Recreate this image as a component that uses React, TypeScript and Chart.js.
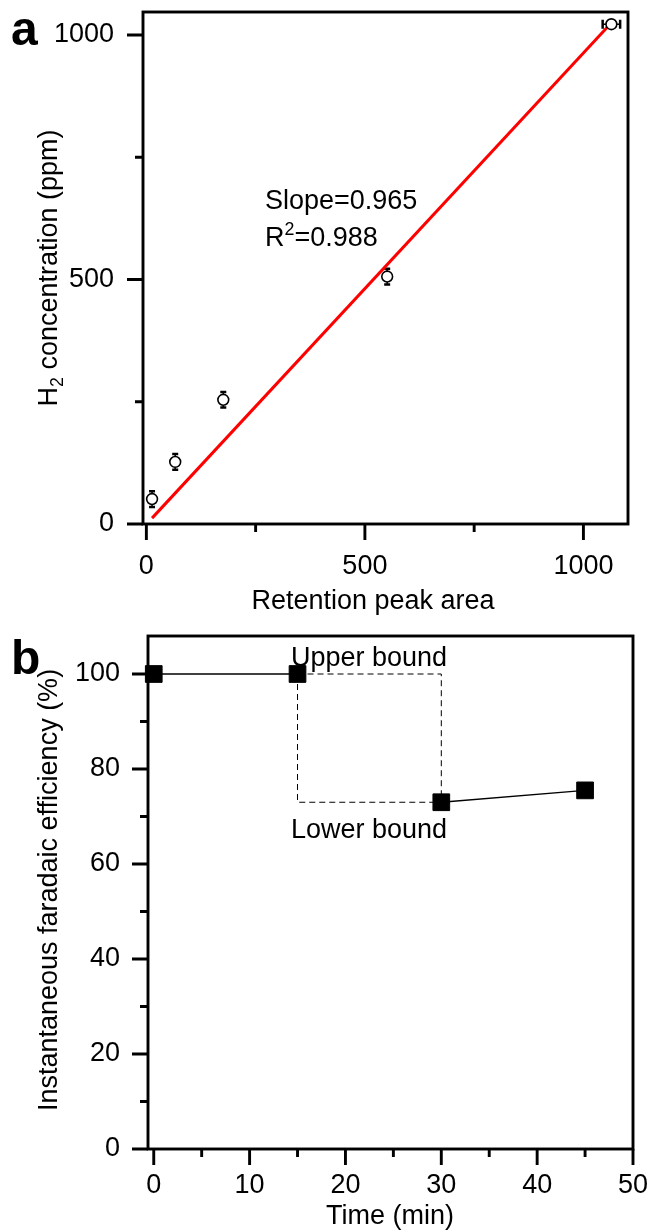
import React, { useEffect, useRef } from 'react';
import { Chart, registerables } from 'chart.js';

Chart.register(...registerables);

const FONT = "'Liberation Sans', Arial, Helvetica, sans-serif";
const FS = 27;

// ---------- Panel a data ----------
const peakArea = [13, 66, 176, 551, 1064];
const h2Concentration = [51, 127, 254, 506, 1022];
const h2ConcentrationErr = [16, 16, 16, 16, 0];
const peakAreaErr = [0, 0, 0, 0, 20];
const fitLineArea = [13, 1062];
const fitLineConc = [12, 1023];
const panelAXTicks = [0, 500, 1000];
const panelAXMinorTicks = [250, 750];
const panelAYTicks = [0, 500, 1000];
const panelAYMinorTicks = [250, 750];
const slopeText = 'Slope=0.965';
const r2Value = '=0.988';

// ---------- Panel b data ----------
const timeMin = [0, 15, 30, 45];
const faradaicEff = [100, 100, 73, 75.5];
const upperBoundTime = [15, 30, 30];
const upperBoundEff = [100, 100, 73];
const lowerBoundTime = [15, 15, 30];
const lowerBoundEff = [100, 73, 73];
const panelBXTicks = [0, 10, 20, 30, 40, 50];
const panelBXMinorTicks = [5, 15, 25, 35, 45];
const panelBYTicks = [0, 20, 40, 60, 80, 100];
const panelBYMinorTicks = [10, 30, 50, 70, 90];

type Part = { t: string; sub?: boolean; sup?: boolean };

function drawRich(ctx: CanvasRenderingContext2D, parts: Part[], x: number, y: number, size: number, align: 'left' | 'center') {
  ctx.textBaseline = 'alphabetic';
  ctx.textAlign = 'left';
  let w = 0;
  const widths: number[] = [];
  for (const p of parts) {
    const s = p.sub || p.sup ? size * 0.66 : size;
    ctx.font = `${s}px ${FONT}`;
    const m = ctx.measureText(p.t).width;
    widths.push(m);
    w += m;
  }
  let cx = align === 'center' ? x - w / 2 : x;
  parts.forEach((p, i) => {
    const s = p.sub || p.sup ? size * 0.66 : size;
    ctx.font = `${s}px ${FONT}`;
    const dy = p.sub ? size * 0.22 : p.sup ? -size * 0.4 : 0;
    ctx.fillText(p.t, cx, y + dy);
    cx += widths[i];
  });
}

function drawFrameTicks(chart: any, xMajor: number[], xMinor: number[], yMajor: number[], yMinor: number[]) {
  const { ctx, chartArea: a, scales } = chart;
  const xs = scales.x;
  const ys = scales.y;
  ctx.save();
  ctx.strokeStyle = '#000';
  ctx.lineWidth = 2.9;
  ctx.lineCap = 'butt';
  ctx.strokeRect(a.left, a.top, a.right - a.left, a.bottom - a.top);
  ctx.beginPath();
  for (const v of xMajor) {
    const px = xs.getPixelForValue(v);
    ctx.moveTo(px, a.bottom);
    ctx.lineTo(px, a.bottom + 16);
  }
  for (const v of xMinor) {
    const px = xs.getPixelForValue(v);
    ctx.moveTo(px, a.bottom);
    ctx.lineTo(px, a.bottom + 8);
  }
  for (const v of yMajor) {
    const py = ys.getPixelForValue(v);
    ctx.moveTo(a.left, py);
    ctx.lineTo(a.left - 16, py);
  }
  for (const v of yMinor) {
    const py = ys.getPixelForValue(v);
    ctx.moveTo(a.left, py);
    ctx.lineTo(a.left - 8, py);
  }
  ctx.stroke();
  ctx.restore();
}

function makeScale(min: number, max: number, ticks: number[], pad: number, size: { w?: number; h?: number }) {
  return {
    type: 'linear' as const,
    min,
    max,
    grid: { display: false, drawTicks: false, tickLength: 0 },
    border: { display: false },
    ticks: {
      color: '#000',
      font: { size: FS, family: FONT },
      padding: pad,
      autoSkip: false,
      maxRotation: 0,
      minRotation: 0,
      callback: (v: any) => String(v),
    },
    afterBuildTicks: (s: any) => {
      s.ticks = ticks.map((v) => ({ value: v }));
    },
    afterFit: (s: any) => {
      if (size.w !== undefined) s.width = size.w;
      if (size.h !== undefined) s.height = size.h;
      s.paddingTop = 0;
      s.paddingBottom = 0;
      s.paddingLeft = 0;
      s.paddingRight = 0;
    },
  };
}

function ChartA() {
  const ref = useRef<HTMLCanvasElement>(null);
  useEffect(() => {
    if (!ref.current) return;
    const errPlugin = {
      id: 'errBarsA',
      beforeDatasetsDraw(chart: any) {
        const { ctx, scales } = chart;
        const xs = scales.x;
        const ys = scales.y;
        ctx.save();
        ctx.strokeStyle = '#000';
        peakArea.forEach((xv, i) => {
          const px = xs.getPixelForValue(xv);
          const py = ys.getPixelForValue(h2Concentration[i]);
          const ye = h2ConcentrationErr[i];
          if (ye > 0) {
            const t = ys.getPixelForValue(h2Concentration[i] + ye);
            const b = ys.getPixelForValue(h2Concentration[i] - ye);
            ctx.lineWidth = 1.5;
            ctx.beginPath();
            ctx.moveTo(px, t);
            ctx.lineTo(px, b);
            ctx.stroke();
            ctx.lineWidth = 2.5;
            ctx.beginPath();
            ctx.moveTo(px - 3, t);
            ctx.lineTo(px + 3, t);
            ctx.moveTo(px - 3, b);
            ctx.lineTo(px + 3, b);
            ctx.stroke();
          }
          const xe = peakAreaErr[i];
          if (xe > 0) {
            const l = xs.getPixelForValue(xv - xe);
            const r = xs.getPixelForValue(xv + xe);
            ctx.lineWidth = 1.5;
            ctx.beginPath();
            ctx.moveTo(l, py);
            ctx.lineTo(r, py);
            ctx.stroke();
            ctx.lineWidth = 2.5;
            ctx.beginPath();
            ctx.moveTo(l, py - 4.5);
            ctx.lineTo(l, py + 4.5);
            ctx.moveTo(r, py - 4.5);
            ctx.lineTo(r, py + 4.5);
            ctx.stroke();
          }
        });
        ctx.restore();
      },
      afterDraw(chart: any) {
        const ctx = chart.ctx as CanvasRenderingContext2D;
        drawFrameTicks(chart, panelAXTicks, panelAXMinorTicks, panelAYTicks, panelAYMinorTicks);
        ctx.save();
        ctx.fillStyle = '#000';
        ctx.font = `bold 48px ${FONT}`;
        ctx.textAlign = 'left';
        ctx.textBaseline = 'alphabetic';
        ctx.fillText('a', 11, 45);
        drawRich(ctx, [{ t: slopeText }], 265, 209, FS, 'left');
        drawRich(ctx, [{ t: 'R' }, { t: '2', sup: true }, { t: r2Value }], 265, 246, FS, 'left');
        drawRich(ctx, [{ t: 'Retention peak area' }], 373, 609, FS, 'center');
        const a = chart.chartArea;
        ctx.save();
        ctx.translate(57, (a.top + a.bottom) / 2);
        ctx.rotate(-Math.PI / 2);
        drawRich(ctx, [{ t: 'H' }, { t: '2', sub: true }, { t: ' concentration (ppm)' }], 0, 0, FS, 'center');
        ctx.restore();
        ctx.restore();
      },
    };
    const chart = new Chart(ref.current, {
      type: 'scatter',
      data: {
        datasets: [
          {
            label: 'H2',
            data: peakArea.map((x, i) => ({ x, y: h2Concentration[i] })),
            pointStyle: 'circle',
            pointRadius: 5.4,
            pointBorderWidth: 1.6,
            pointBackgroundColor: '#fff',
            pointBorderColor: '#000',
            showLine: false,
            order: 0,
            clip: false as any,
          },
          {
            label: 'fit',
            data: fitLineArea.map((x, i) => ({ x, y: fitLineConc[i] })),
            showLine: true,
            borderColor: '#ff0000',
            borderWidth: 3,
            pointRadius: 0,
            order: 1,
          },
        ],
      },
      options: {
        animation: false,
        responsive: false,
        maintainAspectRatio: false,
        events: [],
        layout: { padding: { top: 12, right: 24, left: 0, bottom: 0 } },
        plugins: { legend: { display: false }, tooltip: { enabled: false } },
        scales: {
          x: makeScale(-7.7, 1102, panelAXTicks, 26, { h: 91 }) as any,
          y: makeScale(0, 1047, panelAYTicks, 29, { w: 143 }) as any,
        },
      },
      plugins: [errPlugin],
    });
    return () => chart.destroy();
  }, []);
  return <canvas ref={ref} width={652} height={615} style={{ display: 'block', width: 652, height: 615 }} />;
}

function ChartB() {
  const ref = useRef<HTMLCanvasElement>(null);
  useEffect(() => {
    if (!ref.current) return;
    const deco = {
      id: 'decoB',
      afterDraw(chart: any) {
        const ctx = chart.ctx as CanvasRenderingContext2D;
        drawFrameTicks(chart, panelBXTicks, panelBXMinorTicks, panelBYTicks, panelBYMinorTicks);
        ctx.save();
        ctx.fillStyle = '#000';
        ctx.font = `bold 48px ${FONT}`;
        ctx.textAlign = 'left';
        ctx.textBaseline = 'alphabetic';
        ctx.fillText('b', 11, 59);
        drawRich(ctx, [{ t: 'Upper bound' }], 291, 51, FS, 'left');
        drawRich(ctx, [{ t: 'Lower bound' }], 291, 223, FS, 'left');
        drawRich(ctx, [{ t: 'Time (min)' }], 390, 609, FS, 'center');
        ctx.save();
        ctx.translate(57, 275);
        ctx.rotate(-Math.PI / 2);
        drawRich(ctx, [{ t: 'Instantaneous faradaic efficiency (%)' }], 0, 0, FS, 'center');
        ctx.restore();
        ctx.restore();
      },
    };
    const chart = new Chart(ref.current, {
      type: 'scatter',
      data: {
        datasets: [
          {
            label: 'FE',
            data: timeMin.map((x, i) => ({ x, y: faradaicEff[i] })),
            showLine: true,
            borderColor: '#000',
            borderWidth: 1.3,
            segment: {
              borderColor: (c: any) => (c.p0DataIndex === 1 ? 'rgba(0,0,0,0)' : '#000'),
            },
            pointStyle: 'rect',
            pointRadius: 11.8,
            pointBorderWidth: 1,
            pointBackgroundColor: '#000',
            pointBorderColor: '#000',
            order: 0,
            clip: false as any,
          },
          {
            label: 'Upper bound',
            data: upperBoundTime.map((x, i) => ({ x, y: upperBoundEff[i] })),
            showLine: true,
            borderColor: '#000',
            borderWidth: 1,
            borderDash: [6, 4],
            pointRadius: 0,
            order: 1,
          },
          {
            label: 'Lower bound',
            data: lowerBoundTime.map((x, i) => ({ x, y: lowerBoundEff[i] })),
            showLine: true,
            borderColor: '#000',
            borderWidth: 1,
            borderDash: [6, 4],
            pointRadius: 0,
            order: 2,
          },
        ],
      },
      options: {
        animation: false,
        responsive: false,
        maintainAspectRatio: false,
        events: [],
        layout: { padding: { top: 21, right: 19, left: 0, bottom: 0 } },
        plugins: { legend: { display: false }, tooltip: { enabled: false } },
        scales: {
          x: makeScale(-0.6, 50, panelBXTicks, 20, { h: 81 }) as any,
          y: makeScale(0, 108, panelBYTicks, 28, { w: 148 }) as any,
        },
      },
      plugins: [deco],
    });
    return () => chart.destroy();
  }, []);
  return <canvas ref={ref} width={652} height={615} style={{ display: 'block', width: 652, height: 615 }} />;
}

export default function App() {
  return (
    <div style={{ position: 'absolute', left: 0, top: 0, width: 652, height: 1230, background: '#fff' }}>
      <ChartA />
      <ChartB />
    </div>
  );
}
